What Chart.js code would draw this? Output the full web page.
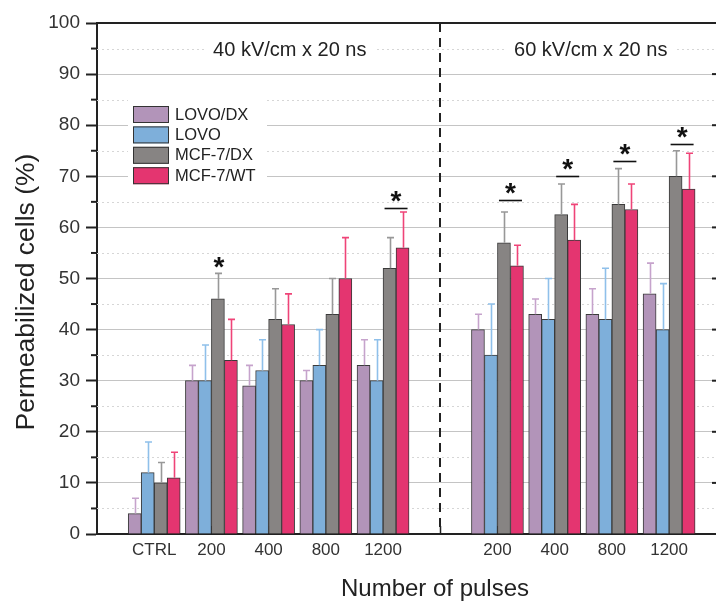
<!DOCTYPE html>
<html>
<head>
<meta charset="utf-8">
<script src="https://cdn.jsdelivr.net/npm/chart.js@4.4.1/dist/chart.umd.min.js"></script>
<style>
  html, body { margin: 0; padding: 0; background: #fff; }
  #wrap { width: 716px; height: 601px; }
</style>
</head>
<body>
<div id="wrap"><canvas id="chart"></canvas></div>
<script>
// Categories
const pulses40 = ['CTRL', '200', '400', '800', '1200'];
const pulses60 = ['200', '400', '800', '1200'];
const fieldLabels = ['40 kV/cm x 20 ns', '60 kV/cm x 20 ns'];
const seriesNames = ['LOVO/DX', 'LOVO', 'MCF-7/DX', 'MCF-7/WT'];

// Means (%)
const lovoDx = [4, 30, 29, 30, 33, 40, 43, 43, 47];
const lovo   = [12, 30, 32, 33, 30, 35, 42, 42, 40];
const mcfDx  = [10, 46, 42, 43, 52, 57, 62.5, 64.5, 70];
const mcfWt  = [11, 34, 41, 50, 56, 52.5, 57.5, 63.5, 67.5];

// Error bars (upper SD)
const lovoDxSd = [3, 3, 4, 2, 5, 3, 3, 5, 6];
const lovoSd   = [6, 7, 6, 7, 8, 10, 8, 10, 9];
const mcfDxSd  = [4, 5, 6, 7, 6, 6, 6, 7, 5];
const mcfWtSd  = [5, 8, 6, 8, 7, 4, 7, 5, 7];

// Significance marks (category index, level)
const sigCats = [4, 5, 6, 7, 8];
const sigLevels = [63.8, 65.4, 70, 73, 76.4];
const starCats = [1];
const starLevels = [53];

// Tick labels: empty slot before CTRL and between the two field groups
const tickLabels = ['', ...pulses40, '', ...pulses60];
const barPos = tickLabels.map((l, i) => i).filter(i => tickLabels[i] !== '');
const gapPos = pulses40.length + 1;

const fills  = ['#b294b9', '#7eafda', '#878483', '#e43570'];
const errCol = ['#c6a3cc', '#8fc0ea', '#989898', '#ef4478'];
const means = [lovoDx, lovo, mcfDx, mcfWt];
const sds = [lovoDxSd, lovoSd, mcfDxSd, mcfWtSd];

const FONT = "'Liberation Sans', Arial, Helvetica, sans-serif";
Chart.defaults.font.family = FONT;

const extras = {
    id: 'extras',
    beforeDatasetsDraw(chart) {
        const { ctx, chartArea: a, scales: { x, y } } = chart;
        ctx.save();
        // minor dotted grid
        ctx.strokeStyle = '#d6d6d6';
        ctx.lineWidth = 1;
        ctx.setLineDash([2, 3]);
        for (let v = 5; v < 100; v += 10) {
            const py = Math.round(y.getPixelForValue(v)) + 0.5;
            ctx.beginPath(); ctx.moveTo(a.left, py); ctx.lineTo(a.right, py); ctx.stroke();
        }
        ctx.setLineDash([]);
        // minor ticks on the left, inward ticks on the right
        ctx.strokeStyle = '#222';
        ctx.lineWidth = 2;
        for (let v = 5; v < 100; v += 10) {
            const py = y.getPixelForValue(v);
            ctx.beginPath(); ctx.moveTo(a.left - 6, py); ctx.lineTo(a.left, py); ctx.stroke();
        }
        for (let v = 10; v < 100; v += 10) {
            const py = y.getPixelForValue(v);
            ctx.beginPath(); ctx.moveTo(a.right - 4, py); ctx.lineTo(a.right, py); ctx.stroke();
        }
        // inward ticks on x axis
        ctx.lineWidth = 1.5;
        tickLabels.forEach((l, i) => {
            if (i === 0) return;
            const px = Math.round(x.getPixelForValue(i)) + 0.5;
            ctx.beginPath(); ctx.moveTo(px, a.bottom - 8); ctx.lineTo(px, a.bottom); ctx.stroke();
        });
        ctx.restore();
    },
    afterDatasetsDraw(chart) {
        const { ctx, chartArea: a, scales: { x, y } } = chart;
        ctx.save();

        // error bars
        ctx.lineWidth = 1.6;
        means.forEach((vals, d) => {
            const meta = chart.getDatasetMeta(d);
            ctx.strokeStyle = errCol[d];
            meta.data.forEach((bar, i) => {
                const top = y.getPixelForValue(vals[i] + sds[d][i]);
                const bx = Math.round(bar.x) + 0.5;
                ctx.beginPath();
                ctx.moveTo(bx, bar.y);
                ctx.lineTo(bx, top);
                ctx.moveTo(bx - 3.5, top);
                ctx.lineTo(bx + 3.5, top);
                ctx.stroke();
            });
        });

        // significance lines and stars
        const dxMeta = chart.getDatasetMeta(2);
        const wtMeta = chart.getDatasetMeta(3);
        ctx.strokeStyle = '#111';
        ctx.fillStyle = '#111';
        ctx.lineWidth = 1.6;
        ctx.font = 'bold 28px ' + FONT;
        ctx.textAlign = 'center';
        ctx.textBaseline = 'alphabetic';
        sigCats.forEach((c, k) => {
            const x1 = dxMeta.data[c].x - 5;
            const x2 = wtMeta.data[c].x + 5;
            const py = Math.round(y.getPixelForValue(sigLevels[k])) + 0.5;
            ctx.beginPath(); ctx.moveTo(x1, py); ctx.lineTo(x2, py); ctx.stroke();
            ctx.fillText('*', (x1 + x2) / 2, py + 1);
        });
        starCats.forEach((c, k) => {
            const py = y.getPixelForValue(starLevels[k]);
            ctx.fillText('*', dxMeta.data[c].x + 1, py + 13);
        });

        // dashed separator
        ctx.strokeStyle = '#222';
        ctx.lineWidth = 2;
        ctx.setLineDash([9, 6]);
        const gx = Math.round(x.getPixelForValue(gapPos));
        ctx.beginPath(); ctx.moveTo(gx, a.top); ctx.lineTo(gx, a.bottom); ctx.stroke();
        ctx.setLineDash([]);

        // top frame
        ctx.beginPath(); ctx.moveTo(a.left - 1, a.top); ctx.lineTo(a.right, a.top); ctx.stroke();

        // field labels
        ctx.font = '20px ' + FONT;
        ctx.textBaseline = 'middle';
        const fy = y.getPixelForValue(94.6);
        [3.37, 8.63].forEach((pos, k) => {
            const fx = x.getPixelForValue(pos);
            const w = ctx.measureText(fieldLabels[k]).width;
            ctx.fillStyle = '#fff';
            ctx.fillRect(fx - w / 2 - 8, fy - 9, w + 16, 18);
            ctx.fillStyle = '#222';
            ctx.fillText(fieldLabels[k], fx, fy);
        });

        // legend
        ctx.fillStyle = '#fff';
        ctx.fillRect(128, 100, 139, 90);
        ctx.font = '16.5px ' + FONT;
        ctx.textAlign = 'left';
        seriesNames.forEach((name, k) => {
            const ry = 106 + k * 20.4;
            ctx.fillStyle = fills[k];
            ctx.fillRect(133, ry, 36, 17);
            ctx.strokeStyle = '#333';
            ctx.lineWidth = 1;
            ctx.strokeRect(133.5, ry + 0.5, 35, 16);
            ctx.fillStyle = '#222';
            ctx.fillText(name, 175, ry + 9);
        });

        // axis titles
        ctx.textAlign = 'center';
        ctx.fillStyle = '#222';
        ctx.font = '24px ' + FONT;
        ctx.fillText('Number of pulses', 435, 589);
        ctx.font = '26.5px ' + FONT;
        ctx.translate(27, 292);
        ctx.rotate(-Math.PI / 2);
        ctx.fillText('Permeabilized cells (%)', 0, 0);

        ctx.restore();
    }
};

new Chart(document.getElementById('chart'), {
    type: 'bar',
    data: {
        labels: barPos,
        datasets: seriesNames.map((name, k) => ({
            label: name,
            data: means[k],
            backgroundColor: fills[k],
            borderColor: '#3a3a3a',
            borderWidth: 1
        }))
    },
    options: {
        responsive: true,
        maintainAspectRatio: false,
        animation: false,
        layout: { padding: { top: 23, right: 0, left: 0, bottom: 0 } },
        datasets: { bar: { barThickness: 13 } },
        plugins: {
            legend: { display: false },
            tooltip: { enabled: false }
        },
        scales: {
            x: {
                type: 'linear',
                offset: false,
                min: 0,
                max: 10.82,
                afterFit: (s) => { s.height = 67; },
                grid: { display: false, drawTicks: false, offset: false },
                border: { display: true, color: '#222', width: 2 },
                ticks: {
                    stepSize: 1,
                    includeBounds: false,
                    autoSkip: false,
                    maxRotation: 0,
                    padding: 6,
                    color: '#333',
                    font: { size: 17 },
                    callback: (v) => tickLabels[v] ?? ''
                }
            },
            y: {
                min: 0,
                max: 100,
                afterFit: (s) => { s.width = 97; },
                grid: {
                    color: '#c4c4c4',
                    lineWidth: 1,
                    tickColor: '#222',
                    tickLength: 11,
                    tickWidth: 2
                },
                border: { display: true, color: '#222', width: 2 },
                ticks: {
                    stepSize: 10,
                    padding: 6,
                    color: '#333',
                    font: { size: 19 }
                }
            }
        }
    },
    plugins: [extras]
});
</script>
</body>
</html>
